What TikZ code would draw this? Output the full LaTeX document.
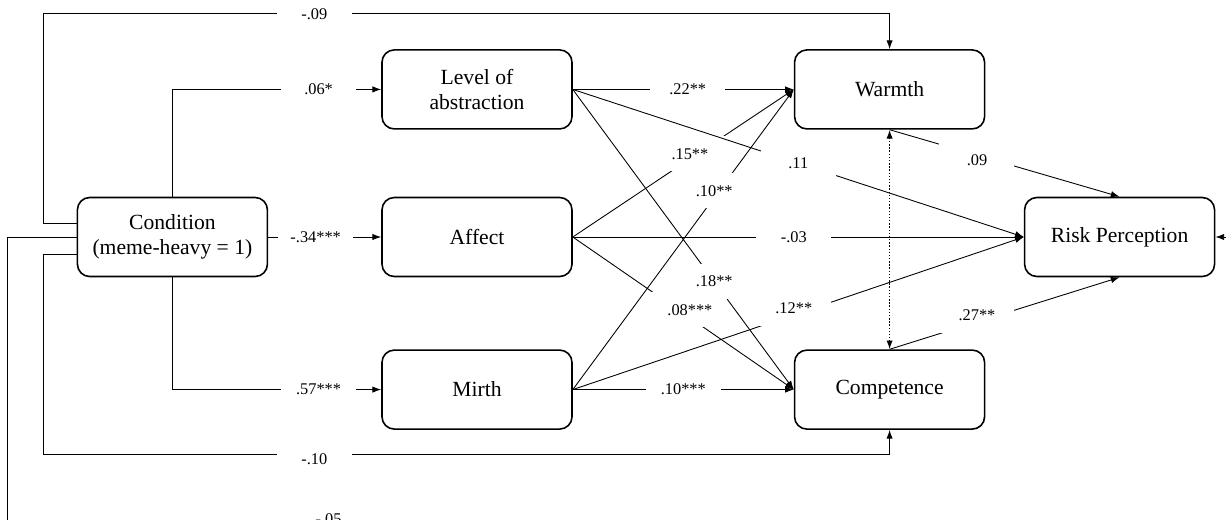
\documentclass[tikz,border=0pt]{standalone}
\usepackage{fontspec}
\setmainfont{Liberation Serif}
\usetikzlibrary{arrows.meta, positioning, calc}

\begin{document}
\begin{tikzpicture}[node distance=1.4cm, >={Latex[length=5pt,width=3.6pt]}]
    \tikzstyle{block} = [rectangle, draw, line width=0.9pt, rounded corners=7pt, minimum width=3.8cm, minimum height=1.58cm, inner sep=0pt, align=center, font=\fontsize{12.3}{14.5}\selectfont]
    \tikzstyle{line} = [draw, ->, line width=0.5pt]
    \tikzstyle{coef} = [fill=white, minimum width=1.5cm, minimum height=0.7cm, inner sep=0pt, font=\fontsize{9.3}{11}\selectfont]

    \useasboundingbox (-9.54,-5.64) rectangle (14.98,4.74);
    \clip (-9.54,-5.64) rectangle (14.98,4.74);

    \node [block] (affect) at (0,0) {Affect};
    \node [block, above=1.34cm of affect] (level) {Level of\\abstraction};
    \node [block, below=1.44cm of affect] (mirth) {Mirth};
    \node [block, left=2.26cm of affect] (cond) {Condition\\(meme-heavy = 1)};
    \node [block, right=4.42cm of level] (warm) {Warmth};
    \node [block, right=4.42cm of mirth] (comp) {Competence};
    \node [block, right=9.02cm of affect] (risk) {Risk Perception};

    % condition to mediators
    \path [line] (cond.north) |- node [coef, pos=.85] {.06*} (level.west);
    \path [line] (cond.east) -- node [coef, pos=.42] {-.34***} (affect.west);
    \path [line] (cond.south) |- node [coef, pos=.85] {.57***} (mirth.west);

    % mediators to warmth and competence
    \path [line] (level.east) -- node [coef, pos=.52] {.22**} (warm.west);
    \path [line] (affect.east) -- node [coef, pos=.53, yshift=.1cm] {.15**} (warm.west);
    \path [line] (mirth.east) -- node [coef, pos=.64, yshift=.13cm] {.10**} (warm.west);
    \path [line] (level.east) -- node [coef, pos=.64] {.18**} (comp.west);
    \path [line] (affect.east) -- node [coef, pos=.53, yshift=.16cm] {.08***} (comp.west);
    \path [line] (mirth.east) -- node [coef, pos=.50] {.10***} (comp.west);

    % paths to risk perception
    \path [line] (level.east) -- node [coef, pos=.50] {.11} (risk.west);
    \path [line] (affect.east) -- node [coef, pos=.49] {-.03} (risk.west);
    \path [line] (mirth.east) -- node [coef, pos=.49, yshift=.13cm] {.12**} (risk.west);
    \path [line] (warm.south) -- node [coef, pos=.38, yshift=-.11cm] {.09} (risk.north);
    \path [line] (comp.north) -- node [coef, pos=.38, yshift=.13cm] {.27**} (risk.south);
    \draw [<->, densely dotted, line width=0.8pt] (warm.south) -- (comp.north);

    % direct effects of condition
    \coordinate (topy) at (0,4.48);
    \coordinate (boty) at (0,-4.34);
    \coordinate (lowy) at (0,-5.78);
    \coordinate (upl) at ([xshift=-.66cm, yshift=.28cm]cond.west);
    \coordinate (lowl) at ([xshift=-.66cm, yshift=-.34cm]cond.west);
    \coordinate (farl) at ([xshift=-1.38cm]cond.west);
    \coordinate (farr) at (15.3,0);

    \path [line] ([yshift=.28cm]cond.west) -- (upl) -- (upl |- topy) -- node [coef, pos=.32, yshift=-.03cm] {-.09} (warm.north |- topy) -- (warm.north);
    \path [line] ([yshift=-.34cm]cond.west) -- (lowl) -- (lowl |- boty) -- node [coef, pos=.32, yshift=-.1cm] {-.10} (comp.south |- boty) -- (comp.south);
    \path [line] (cond.west) -- (farl) -- (farl |- lowy) -- node [coef, pos=.26, yshift=.14cm] {-.05} (farr |- lowy) -- (farr |- risk.east) -- (risk.east);
\end{tikzpicture}
\end{document}
